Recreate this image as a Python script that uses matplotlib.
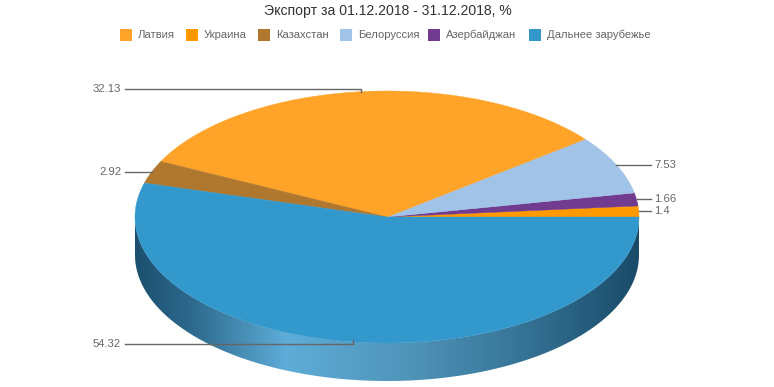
import numpy as np
import matplotlib
matplotlib.use("Agg")
import matplotlib.pyplot as plt
from matplotlib.colors import LinearSegmentedColormap
from matplotlib.patches import Polygon, Rectangle

plt.rcParams['font.family'] = ['Liberation Sans', 'DejaVu Sans']

title = "Экспорт за 01.12.2018 - 31.12.2018, %"
legend_names = ["Латвия", "Украина", "Казахстан", "Белоруссия", "Азербайджан", "Дальнее зарубежье"]
legend_colors = ["#ffa329", "#ff9900", "#b0772f", "#a2c3e8", "#713b90", "#3398cc"]
legend_x = [120, 186, 258, 340, 428, 529]

# slices in drawing order, counter clockwise from 3 o'clock
names = ["Украина", "Азербайджан", "Белоруссия", "Латвия", "Казахстан", "Дальнее зарубежье"]
values = [1.4, 1.66, 7.53, 32.13, 2.92, 54.32]
labels = ["1.4", "1.66", "7.53", "32.13", "2.92", "54.32"]

cx, cy = 387, 217
rx, ry = 252, 126
depth = 38

colors = dict(zip(legend_names, legend_colors))


def arc(a0, a1, n=200, dy=0):
    t = np.linspace(a0, a1, n)
    return np.column_stack([cx + rx * np.cos(t), cy - ry * np.sin(t) + dy])


fig = plt.figure(figsize=(7.74, 3.87), dpi=100)
ax = fig.add_axes([0, 0, 1, 1])

# side of the pie, only the front half shows
side = np.vstack([arc(np.pi, 2 * np.pi), arc(2 * np.pi, np.pi, dy=depth)])
cmap = LinearSegmentedColormap.from_list("side", [
    (0.0, "#1c4f6e"), (0.12, "#2f6c90"), (0.30, "#5eadd8"),
    (0.55, "#4f93b8"), (0.75, "#38779a"), (1.0, "#1a4b69")])
img = ax.imshow(np.linspace(0, 1, 256)[None, :], cmap=cmap, aspect='auto',
                extent=[cx - rx, cx + rx, cy + ry + depth, cy])
img.set_clip_path(Polygon(side, transform=ax.transData))

# top of the pie
fractions = np.array(values) / sum(values)
ends = np.cumsum(fractions) * 2 * np.pi
starts = ends - fractions * 2 * np.pi
for name, a0, a1 in zip(names, starts, ends):
    pts = np.vstack([[cx, cy], arc(a0, a1)])
    ax.fill(pts[:, 0], pts[:, 1], color=colors[name], lw=0.3)

# leader lines and labels
for lab, a0, a1 in zip(labels, starts, ends):
    mid = (a0 + a1) / 2
    x, y = arc(mid, mid, n=1)[0]
    if lab == "32.13":
        xs, ys, tx = [x, x, 125], [y, 89, 89], 121
    elif lab == "54.32":
        xs, ys, tx = [x, x, 125], [y - 2, 344, 344], 121
    elif lab == "2.92":
        xs, ys, tx = [x, 125], [y, y], 121
    else:
        xs, ys, tx = [x, 651], [y, y], 654
    ax.plot(xs, ys, color="#666666", lw=1, solid_joinstyle='miter')
    ax.text(tx, ys[-1], lab, color="#666666", fontsize=8.1, va='center',
            ha='right' if tx < cx else 'left')

ax.text(387.5, 11.5, title, color="#333333", fontsize=10.1, ha='center', va='center')

for name, col, x in zip(legend_names, legend_colors, legend_x):
    ax.add_patch(Rectangle((x, 29), 12, 12, color=col, lw=0))
    ax.text(x + 18, 34.5, name, color="#666666", fontsize=8.1, va='center', ha='left')

ax.set_xlim(0, 774)
ax.set_ylim(387, 0)
ax.axis('off')
fig.savefig("out.png", dpi=100)
